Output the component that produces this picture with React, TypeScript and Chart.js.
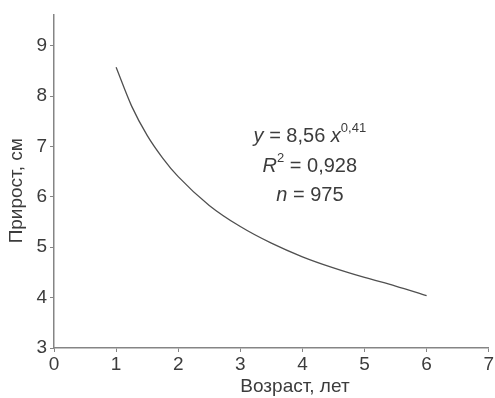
import React, { useEffect, useRef } from "react";
import { Chart, registerables } from "chart.js";

Chart.register(...registerables);

const ageYears = [1, 1.25, 1.5, 1.75, 2, 2.5, 3, 3.5, 4, 4.5, 5, 5.5, 6];
const growthCm = [8.57, 7.8, 7.22, 6.77, 6.4, 5.83, 5.41, 5.08, 4.81, 4.59, 4.4, 4.23, 4.04];
const yTickValues = [3, 4, 5, 6, 7, 8, 9];
const xTitle = "Возраст, лет";
const yTitle = "Прирост, см";

const FONT = "'Liberation Sans', Arial, sans-serif";
const TEXT = "#3c3c3c";
const AXIS = "#858585";

const annotationPlugin = {
  id: "eqText",
  afterDatasetsDraw(chart: any) {
    const ctx = chart.ctx as CanvasRenderingContext2D;
    const xs = chart.scales.x;
    const ys = chart.scales.y;
    const cx = xs.getPixelForValue(4.12);
    ctx.save();
    ctx.fillStyle = TEXT;
    ctx.textBaseline = "middle";
    const reg = `20px ${FONT}`;
    const ital = `italic 20px ${FONT}`;
    const sup = `13px ${FONT}`;
    const draw = (parts: { t: string; f: string; dy?: number }[], yv: number) => {
      let w = 0;
      parts.forEach((p) => {
        ctx.font = p.f;
        w += ctx.measureText(p.t).width;
      });
      let x = cx - w / 2;
      const y = ys.getPixelForValue(yv);
      parts.forEach((p) => {
        ctx.font = p.f;
        ctx.fillText(p.t, x, y + (p.dy || 0));
        x += ctx.measureText(p.t).width;
      });
    };
    draw(
      [
        { t: "y", f: ital },
        { t: " = 8,56 ", f: reg },
        { t: "x", f: ital },
        { t: "0,41", f: sup, dy: -8 },
      ],
      7.2
    );
    draw(
      [
        { t: "R", f: ital },
        { t: "2", f: sup, dy: -8 },
        { t: " = 0,928", f: reg },
      ],
      6.61
    );
    draw(
      [
        { t: "n", f: ital },
        { t: " = 975", f: reg },
      ],
      6.02
    );

    // axis titles
    ctx.font = `19px ${FONT}`;
    ctx.textAlign = "center";
    ctx.fillText(xTitle, xs.getPixelForValue(3.88), 387);
    ctx.translate(17, ys.getPixelForValue(6.12));
    ctx.rotate(-Math.PI / 2);
    ctx.fillText(yTitle, 0, 0);
    ctx.restore();
  },
};

export default function App() {
  const ref = useRef<HTMLCanvasElement>(null);
  useEffect(() => {
    document.body.style.margin = "0";
    const chart = new Chart(ref.current!, {
      type: "line",
      data: {
        datasets: [
          {
            data: ageYears.map((x, i) => ({ x, y: growthCm[i] })),
            borderColor: "#505050",
            borderWidth: 1.3,
            pointRadius: 0,
            fill: false,
            cubicInterpolationMode: "monotone",
          },
        ],
      },
      options: {
        animation: false,
        responsive: false,
        maintainAspectRatio: false,
        layout: { padding: { top: 12, right: 5, left: 0, bottom: 0 } },
        plugins: { legend: { display: false }, tooltip: { enabled: false } },
        scales: {
          x: {
            type: "linear",
            min: 0,
            max: 7,
            afterFit: (s: any) => {
              s.height = 50;
            },
            ticks: { stepSize: 1, color: TEXT, font: { family: FONT, size: 19 }, padding: 1 },
            grid: { drawOnChartArea: false, tickLength: 4, color: AXIS },
            border: { color: AXIS, width: 1.5 },
          },
          y: {
            type: "linear",
            min: 3,
            max: 9.62,
            afterFit: (s: any) => {
              s.width = 54;
            },
            afterBuildTicks: (s: any) => {
              s.ticks = yTickValues.map((v) => ({ value: v }));
            },
            ticks: { color: TEXT, font: { family: FONT, size: 19 }, padding: 3 },
            grid: { drawOnChartArea: false, tickLength: 4, color: AXIS },
            border: { color: AXIS, width: 1.5 },
          },
        },
      },
      plugins: [annotationPlugin],
    } as any);
    return () => chart.destroy();
  }, []);
  return (
    <div style={{ width: 495, height: 398 }}>
      <canvas ref={ref} width={495} height={398} style={{ display: "block" }} />
    </div>
  );
}
